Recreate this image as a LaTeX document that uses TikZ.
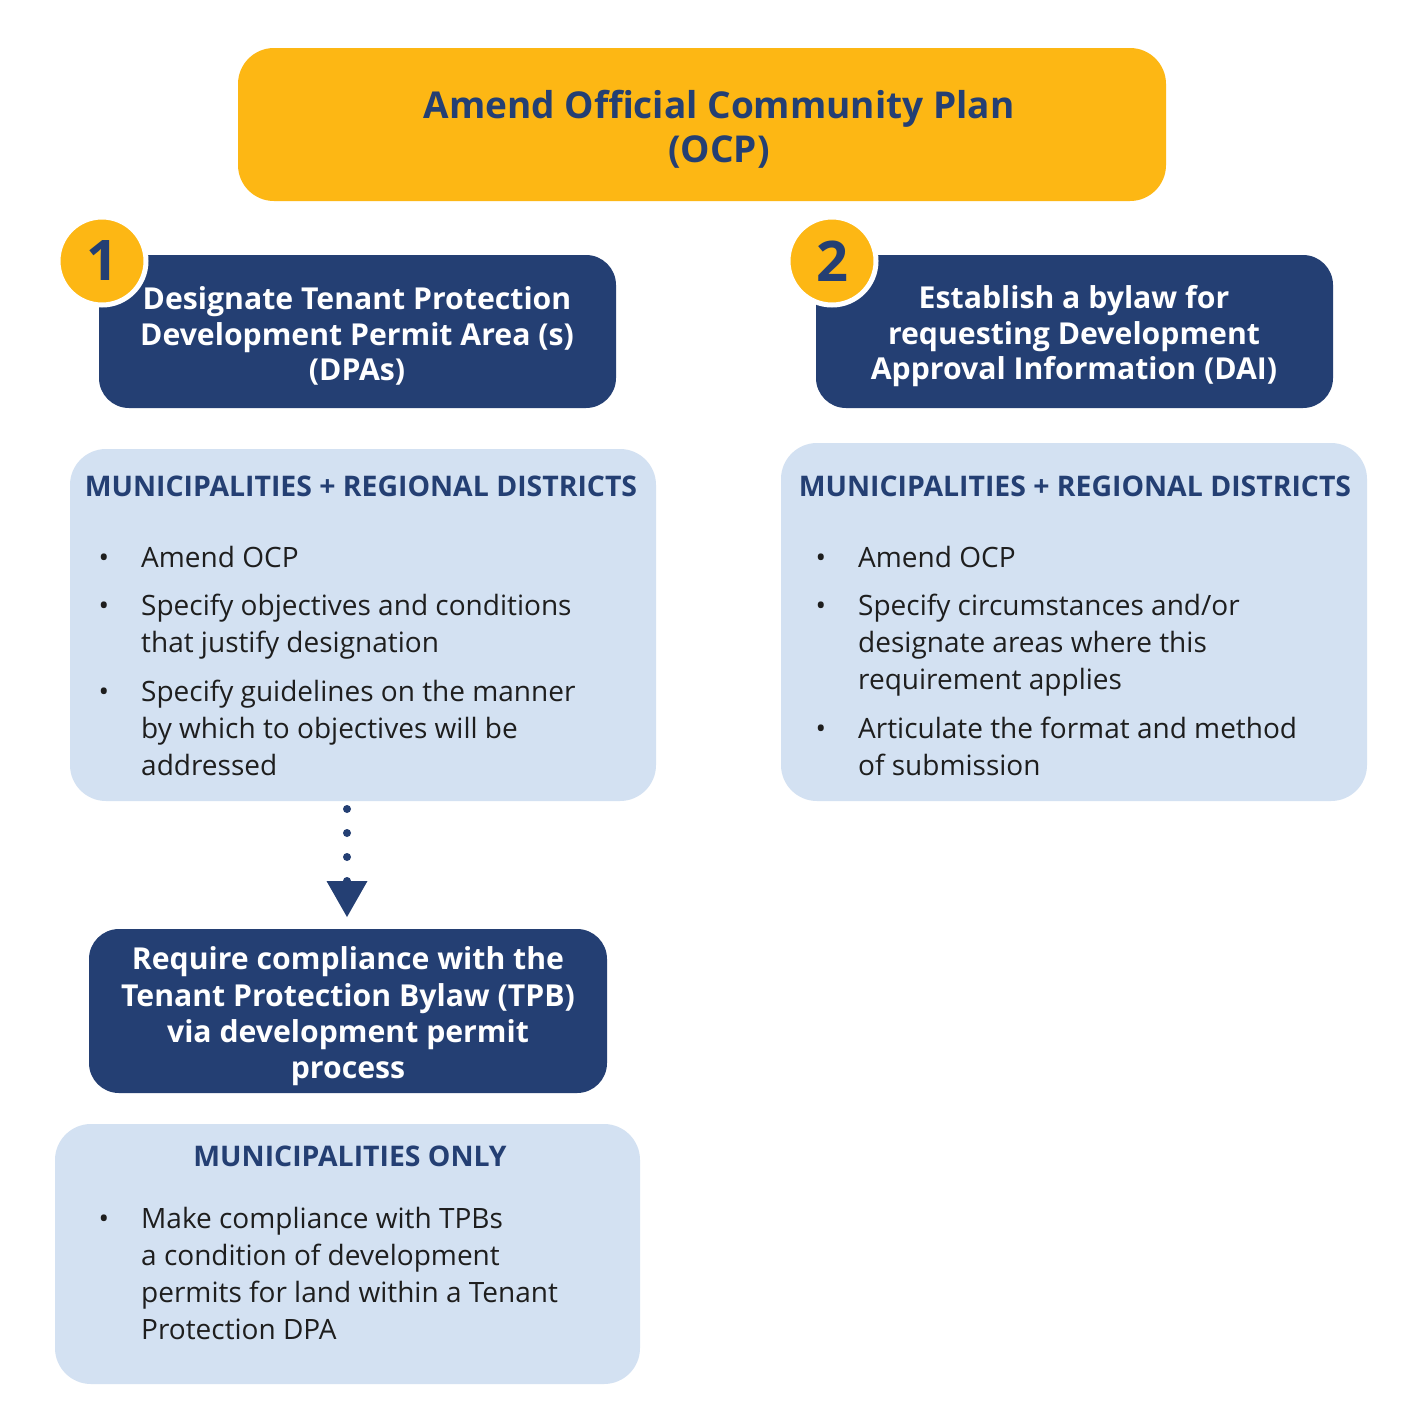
\documentclass[tikz,border=0pt]{standalone}
\usepackage{fontspec}
\setmainfont{Open Sans}
\usetikzlibrary{arrows.meta}
\definecolor{ocpor}{HTML}{FDB714}
\definecolor{navy}{HTML}{243F73}
\definecolor{lightb}{HTML}{D3E1F2}
\definecolor{bodytx}{HTML}{1E1E1E}
\begin{document}
\begin{tikzpicture}[x=1pt,y=-1pt,
  boxbase/.style={inner sep=0pt, outer sep=0pt, rectangle},
  ocpbox/.style={boxbase, fill=ocpor, rounded corners=36pt},
  darkbox/.style={boxbase, fill=navy, rounded corners=30pt},
  lightbox/.style={boxbase, fill=lightb, rounded corners=36pt},
  titletext/.style={anchor=base, inner sep=0pt, text=navy, font=\fontsize{37}{44}\selectfont\bfseries},
  darktext/.style={anchor=base, inner sep=0pt, text=white, font=\fontsize{30.2}{36}\selectfont\bfseries},
  headtext/.style={anchor=base, inner sep=0pt, text=navy, font=\fontsize{28.4}{36}\selectfont\bfseries},
  bodytext/.style={anchor=base west, inner sep=0pt, text=bodytx, font=\fontsize{28}{37}\selectfont},
  bullettext/.style={anchor=base, inner sep=0pt, text=bodytx, font=\fontsize{28}{37}\selectfont},
  badge/.style={circle, fill=ocpor, draw=white, line width=5pt, minimum size=88pt, inner sep=0pt, text=navy, font=\fontsize{56}{56}\selectfont\bfseries},
]
\useasboundingbox (0,0) rectangle (1419,1424);
\fill[white] (0,0) rectangle (1419,1424);

% boxes
\node[ocpbox, minimum width=928pt, minimum height=153pt] (ocp) at (702,124.5) {};
\node[darkbox, minimum width=517pt, minimum height=153pt] (d1) at (357.5,331.5) {};
\node[darkbox, minimum width=517pt, minimum height=153pt] (d2) at (1074.5,331.5) {};
\node[lightbox, minimum width=586pt, minimum height=352pt] (l1) at (363,625) {};
\node[lightbox, minimum width=586pt, minimum height=358pt] (l2) at (1074,622) {};
\node[darkbox, minimum width=518pt, minimum height=164pt] (d3) at (348,1011) {};
\node[lightbox, minimum width=585pt, minimum height=260pt] (l3) at (347.5,1254) {};

% badges
\node[badge] (b1) at (102,261) {1};
\node[badge] (b2) at (832,261) {2};

% title
\node[titletext] (t1) at (719,118) {Amend Official Community Plan};
\node[titletext] (t2) at (719,162) {(OCP)};

% dark box 1
\node[darktext] (d1a) at (357,309) {Designate Tenant Protection};
\node[darktext] (d1b) at (357,345) {Development Permit Area (s)};
\node[darktext] (d1c) at (357,380) {(DPAs)};

% dark box 2
\node[darktext] (d2a) at (1074,308) {Establish a bylaw for};
\node[darktext] (d2b) at (1074,344) {requesting Development};
\node[darktext] (d2c) at (1074,379) {Approval Information (DAI)};

% light box 1
\node[headtext] (h1) at (361,496) {MUNICIPALITIES + REGIONAL DISTRICTS};
\node[bullettext] (p1a) at (104,567) {•};
\node[bodytext] (l1a) at (141,567) {Amend OCP};
\node[bullettext] (p1b) at (104,615) {•};
\node[bodytext] (l1b) at (141,615) {Specify objectives and conditions};
\node[bodytext] (l1c) at (141,652) {that justify designation};
\node[bullettext] (p1c) at (104,701) {•};
\node[bodytext] (l1d) at (141,701) {Specify guidelines on the manner};
\node[bodytext] (l1e) at (141,738) {by which to objectives will be};
\node[bodytext] (l1f) at (141,775) {addressed};

% light box 2
\node[headtext] (h2) at (1075,496) {MUNICIPALITIES + REGIONAL DISTRICTS};
\node[bullettext] (p2a) at (821,567) {•};
\node[bodytext] (l2a) at (858,567) {Amend OCP};
\node[bullettext] (p2b) at (821,615) {•};
\node[bodytext] (l2b) at (858,615) {Specify circumstances and/or};
\node[bodytext] (l2c) at (858,652) {designate areas where this};
\node[bodytext] (l2d) at (858,689) {requirement applies};
\node[bullettext] (p2c) at (821,738) {•};
\node[bodytext] (l2e) at (858,738) {Articulate the format and method};
\node[bodytext] (l2f) at (858,775) {of submission};

% dark box 3
\node[darktext] (d3a) at (348,969) {Require compliance with the};
\node[darktext] (d3b) at (348,1006) {Tenant Protection Bylaw (TPB)};
\node[darktext] (d3c) at (348,1042) {via development permit};
\node[darktext] (d3d) at (348,1078) {process};

% light box 3
\node[headtext] (h3) at (350,1166) {MUNICIPALITIES ONLY};
\node[bullettext] (p3a) at (104,1228) {•};
\node[bodytext] (l3a) at (141,1228) {Make compliance with TPBs};
\node[bodytext] (l3b) at (141,1265) {a condition of development};
\node[bodytext] (l3c) at (141,1302) {permits for land within a Tenant};
\node[bodytext] (l3d) at (141,1339) {Protection DPA};

% dotted connector
\coordinate (cs) at (347,801);
\coordinate (ce) at (347,929);
\draw[navy, line width=8pt, line cap=round, dash pattern=on 0pt off 24pt,
  shorten <=8pt, shorten >=12pt,
  -{Triangle[width=41pt,length=36pt,line width=0pt]}] (cs) -- (ce);
\end{tikzpicture}
\end{document}
